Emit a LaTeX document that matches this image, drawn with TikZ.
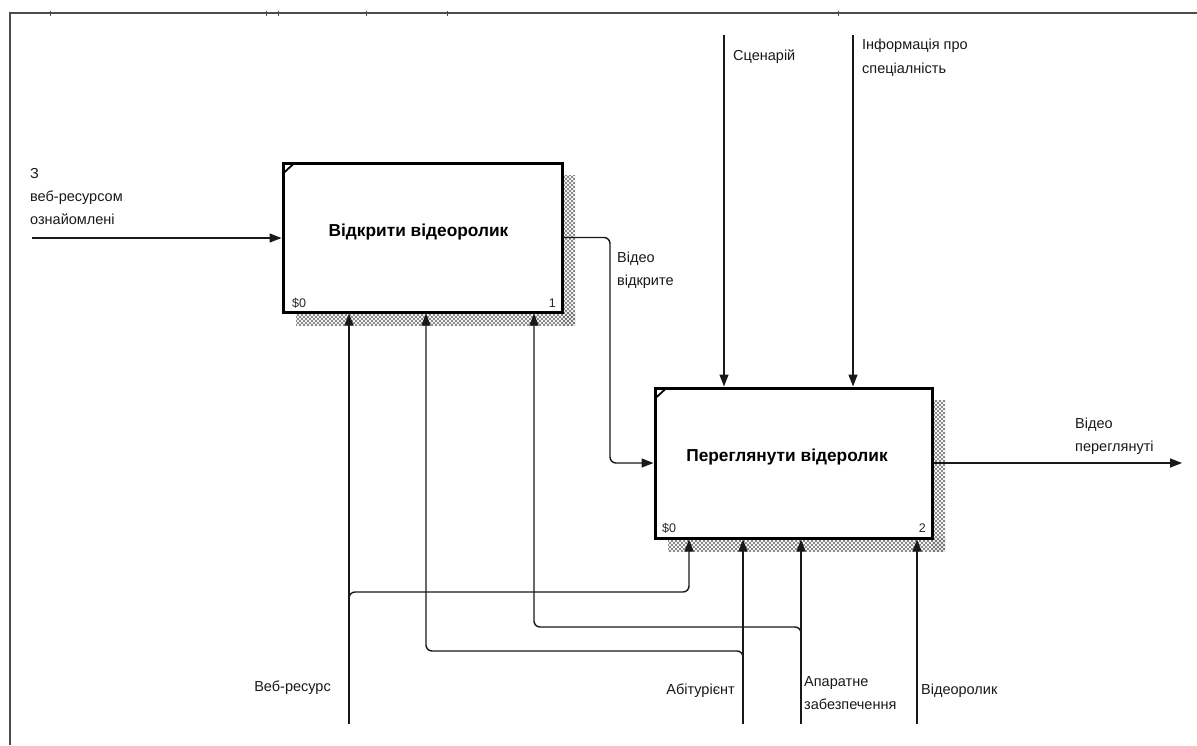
\documentclass[tikz,border=0pt]{standalone}
\usepackage{fontspec}
\setmainfont{Liberation Sans}
\usetikzlibrary{arrows.meta,patterns,calc}

% open diagonal mesh used for the box shadows
\pgfdeclarepatternformonly{mesh}{\pgfqpoint{-1pt}{-1pt}}{\pgfqpoint{5pt}{5pt}}{\pgfqpoint{4pt}{4pt}}{
  \pgfsetlinewidth{0.6pt}
  \pgfpathmoveto{\pgfqpoint{0pt}{0pt}}\pgfpathlineto{\pgfqpoint{4.1pt}{4.1pt}}
  \pgfpathmoveto{\pgfqpoint{0pt}{4pt}}\pgfpathlineto{\pgfqpoint{4.1pt}{-0.1pt}}
  \pgfusepath{stroke}}

\begin{document}
\begin{tikzpicture}[x=1pt,y=-1pt,
  lbl/.style={font=\fontsize{14.5}{23}\selectfont, inner sep=0pt, text=black!90},
  ttl/.style={font=\fontsize{17.3}{20}\selectfont\bfseries, inner sep=0pt},
  num/.style={font=\fontsize{12.5}{14}\selectfont, inner sep=0pt, text=black!85},
  func/.style={draw, line width=3pt, fill=white, inner sep=0pt},
  shadowfill/.style={pattern=mesh, pattern color=black!55},
  wire/.style={line width=1.4pt, black!90},
  arr/.style={wire, -{Triangle[length=12pt,width=9pt]}},
  roundwire/.style={rounded corners=6pt},
  cornertick/.style={line width=1.8pt}
]
\useasboundingbox (0,0) rectangle (1197,745);
\fill[white] (0,0) rectangle (1197,745);

% frame of the diagram sheet
\draw[line width=1.8pt, black!70] (10,745) -- (10,13) -- (1197,13);
\foreach \t in {50,266,278,366,447,838}
  \draw[line width=0.8pt, black!70] (\t,11) -- (\t,16);

% shadows behind the function boxes
\fill[shadowfill] (562,175) rectangle (575,325);
\fill[shadowfill] (296,312) rectangle (575,325);
\fill[shadowfill] (932,400) rectangle (945,551);
\fill[shadowfill] (668,538) rectangle (945,551);

% function boxes
\node[func, minimum width=279pt, minimum height=149pt] (b1) at (422.5,237.5) {};
\node[func, minimum width=277pt, minimum height=150pt] (b2) at (793.5,463) {};

\draw[cornertick] ($(b1.north west)+(1.5,12)$) -- ($(b1.north west)+(13,1.5)$);
\draw[cornertick] ($(b2.north west)+(1.5,12)$) -- ($(b2.north west)+(13,1.5)$);

\node[ttl, anchor=base] (t1) at (418.5,236) {Відкрити відеоролик};
\node[ttl, anchor=base] (t2) at (787,461) {Переглянути відеролик};

\node[num, anchor=base west] (n1a) at (292,307) {\$0};
\node[num, anchor=base east] (n1b) at (556,307) {1};
\node[num, anchor=base west] (n2a) at (662,532) {\$0};
\node[num, anchor=base east] (n2b) at (926,532) {2};

% input of the first box
\coordinate (i1) at (32,238);
\draw[arr] (i1) -- (i1 -| b1.west);
\node[lbl, anchor=base west] (li1) at (30,178) {З};
\node[lbl, anchor=base west] (li2) at (30,201) {веб-ресурсом};
\node[lbl, anchor=base west] (li3) at (30,224) {ознайомлені};

% output of the first box feeding the second
\coordinate (k1) at (610,350);
\draw[arr, roundwire] (b1.east) -| (k1) |- (b2.west);
\node[lbl, anchor=base west] (lk1) at (617,262) {Відео};
\node[lbl, anchor=base west] (lk2) at (617,285) {відкрите};

% controls of the second box
\coordinate (s1) at (724,35);
\coordinate (s2) at (853,35);
\draw[arr] (s1) -- (s1 |- b2.north);
\draw[arr] (s2) -- (s2 |- b2.north);
\node[lbl, anchor=base west] (ls1) at (733,60) {Сценарій};
\node[lbl, anchor=base west] (ls2) at (862,49) {Інформація про};
\node[lbl, anchor=base west] (ls3) at (862,73) {спеціалність};

% output of the second box
\coordinate (o2) at (1182,463);
\draw[arr] (b2.east) -- (o2 |- b2.east);
\node[lbl, anchor=base west] (lo1) at (1075,428) {Відео};
\node[lbl, anchor=base west] (lo2) at (1075,451) {переглянуті};

% mechanisms
\coordinate (w1) at (349,724);
\coordinate (w1b) at (349,592);
\coordinate (w1c) at (689,592);
\draw[arr] (w1) -- (w1 |- b1.south);
\draw[arr, roundwire] ($(w1b)+(0,10)$) -- (w1b) -- (w1c) -- (w1c |- b2.south);
\node[lbl, anchor=base east] (lw1) at (331,691) {Веб-ресурс};

\coordinate (a1) at (743,724);
\coordinate (a1b) at (743,651);
\coordinate (a1c) at (426,651);
\draw[arr] (a1) -- (a1 |- b2.south);
\draw[arr, roundwire] ($(a1b)+(0,10)$) -- (a1b) -- (a1c) -- (a1c |- b1.south);
\node[lbl, anchor=base east] (la1) at (735,694) {Абітурієнт};

\coordinate (h1) at (801,724);
\coordinate (h1b) at (801,627);
\coordinate (h1c) at (534,627);
\draw[arr] (h1) -- (h1 |- b2.south);
\draw[arr, roundwire] ($(h1b)+(0,10)$) -- (h1b) -- (h1c) -- (h1c |- b1.south);
\node[lbl, anchor=base west] (lh1) at (804,686) {Апаратне};
\node[lbl, anchor=base west] (lh2) at (804,709) {забезпечення};

\coordinate (v1) at (917,724);
\draw[arr] (v1) -- (v1 |- b2.south);
\node[lbl, anchor=base west] (lv1) at (921,694) {Відеоролик};
\end{tikzpicture}
\end{document}
